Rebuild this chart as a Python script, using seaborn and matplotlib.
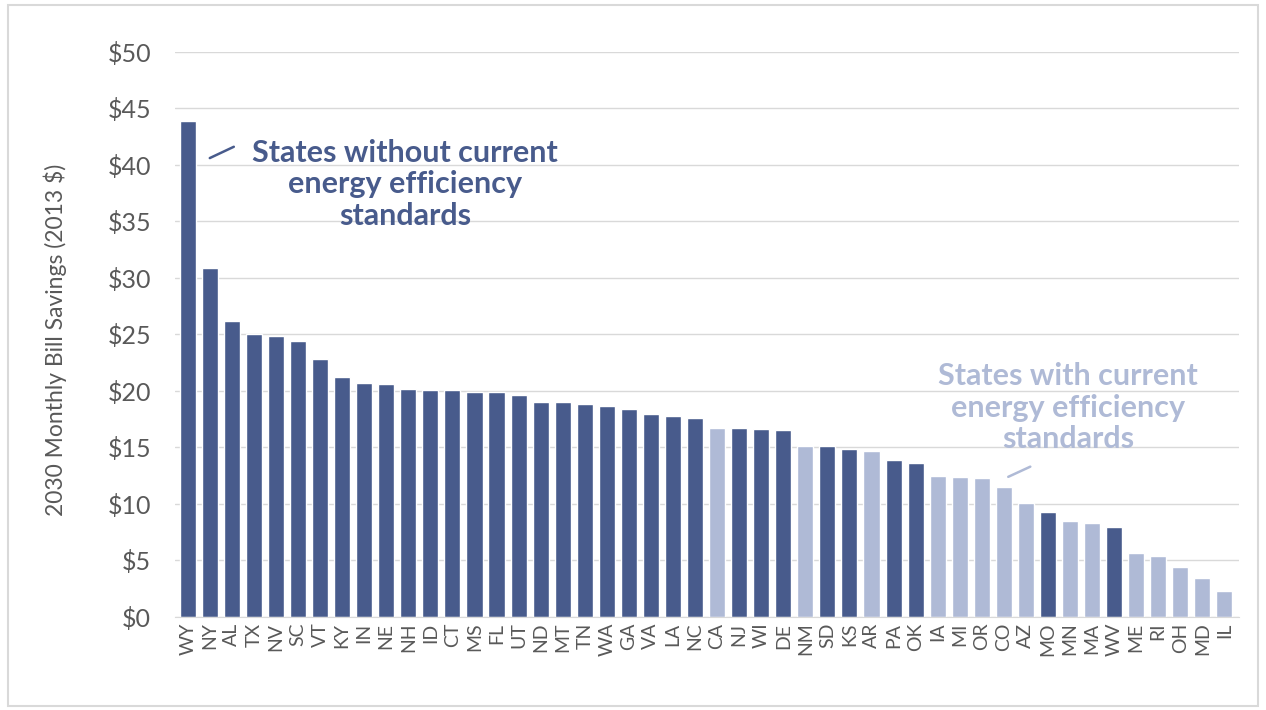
import pandas as pd
import matplotlib.pyplot as plt
import seaborn as sns
from matplotlib.patches import Rectangle

states = ['WY', 'NY', 'AL', 'TX', 'NV', 'SC', 'VT', 'KY', 'IN', 'NE', 'NH', 'ID', 'CT', 'MS',
          'FL', 'UT', 'ND', 'MT', 'TN', 'WA', 'GA', 'VA', 'LA', 'NC', 'CA', 'NJ', 'WI', 'DE',
          'NM', 'SD', 'KS', 'AR', 'PA', 'OK', 'IA', 'MI', 'OR', 'CO', 'AZ', 'MO', 'MN', 'MA',
          'WV', 'ME', 'RI', 'OH', 'MD', 'IL']
savings = [43.9, 30.9, 26.2, 25.0, 24.9, 24.4, 22.8, 21.2, 20.7, 20.6, 20.2, 20.1, 20.1, 19.9,
           19.9, 19.6, 19.0, 19.0, 18.85, 18.7, 18.4, 18.0, 17.8, 17.6, 16.7, 16.7, 16.6, 16.5,
           15.1, 15.1, 14.9, 14.7, 13.9, 13.65, 12.5, 12.4, 12.3, 11.5, 10.1, 9.3, 8.5, 8.3,
           8.0, 5.7, 5.4, 4.45, 3.45, 2.3]
has_standard = ['CA', 'NM', 'AR', 'IA', 'MI', 'OR', 'CO', 'AZ', 'MN', 'MA', 'ME', 'RI', 'OH', 'MD', 'IL']

dark = '#485B8C'
light = '#AFBAD6'

df = pd.DataFrame({'state': states, 'savings': savings})
df['group'] = ['with' if s in has_standard else 'without' for s in states]

sns.set_style('white')
plt.rcParams['font.family'] = ['Lato', 'DejaVu Sans']

fig = plt.figure(figsize=(12.66, 7.1), dpi=100)
ax = fig.add_axes([0.138, 0.131, 0.841, 0.796])

sns.barplot(data=df, x='state', y='savings', hue='group', palette={'without': dark, 'with': light},
            dodge=False, width=0.73, saturation=1, legend=False, ax=ax)

ax.set_ylim(0, 50)
ax.set_xlim(-0.59, len(states) - 0.32)
ax.set_yticks(range(0, 51, 5))
ax.set_yticklabels(['$' + str(v) for v in range(0, 51, 5)], fontsize=18, color='#595959')
ax.tick_params(axis='x', labelrotation=90, labelsize=14, colors='#595959', length=0, pad=4)
ax.tick_params(axis='y', length=0, pad=17)
ax.yaxis.grid(True, color='#D9D9D9', linewidth=1)
ax.set_axisbelow(True)
for s in ['top', 'right', 'left']:
    ax.spines[s].set_visible(False)
ax.spines['bottom'].set_color('#D9D9D9')
ax.set_xlabel('')
ax.set_ylabel('2030 Monthly Bill Savings (2013 $)', fontsize=16.5, color='#595959')
ax.yaxis.set_label_coords(-0.101, 0.49)

ax.text(9.84, 38.3, 'States without current\nenergy efficiency\nstandards', ha='center', va='center',
        fontsize=22, fontweight='bold', color=dark, linespacing=1.15)
ax.plot([1.0, 2.09], [40.6, 41.6], color=dark, lw=1.8)
ax.text(39.9, 18.5, 'States with current\nenergy efficiency\nstandards', ha='center', va='center',
        fontsize=22, fontweight='bold', color=light, linespacing=1.15)
ax.plot([37.2, 38.2], [12.4, 13.3], color=light, lw=1.8)

fig.patches.append(Rectangle((0.006, 0.005), 0.988, 0.988, transform=fig.transFigure,
                             fill=False, edgecolor='#D9D9D9', lw=1.5))

fig.savefig('out.png', dpi=100)
